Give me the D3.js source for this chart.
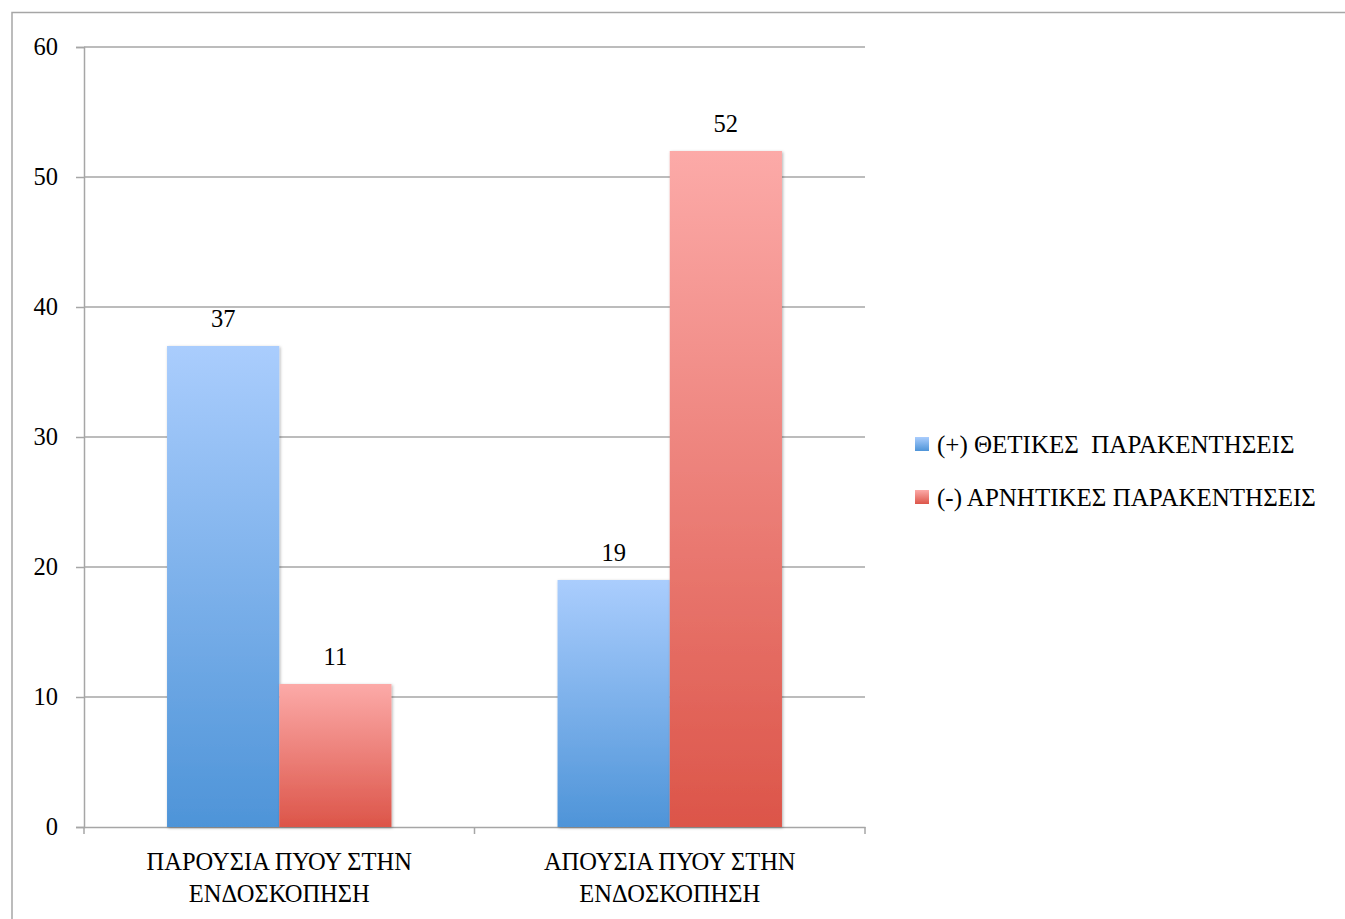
<!DOCTYPE html>
<html>
<head>
<meta charset="utf-8">
<script src="https://cdn.jsdelivr.net/npm/d3@7"></script>
<style>
  body { margin: 0; background: #fff; }
  svg { font-family: "Liberation Serif", serif; }
</style>
</head>
<body>
<script>
const width = 1345, height = 919;

const categories = [["ΠΑΡΟΥΣΙΑ ΠΥΟΥ ΣΤΗΝ", "ΕΝΔΟΣΚΟΠΗΣΗ"], ["ΑΠΟΥΣΙΑ ΠΥΟΥ ΣΤΗΝ", "ΕΝΔΟΣΚΟΠΗΣΗ"]];
const seriesNames = ["(+) ΘΕΤΙΚΕΣ  ΠΑΡΑΚΕΝΤΗΣΕΙΣ", "(-) ΑΡΝΗΤΙΚΕΣ ΠΑΡΑΚΕΝΤΗΣΕΙΣ"];
const positive = [37, 19];
const negative = [11, 52];
const yTicks = [0, 10, 20, 30, 40, 50, 60];

const margin = { left: 84, right: 480, top: 47, bottom: 92 };
const fontSize = 24.5;

const svg = d3.select("body").append("svg")
  .attr("width", width)
  .attr("height", height);

const defs = svg.append("defs");
const grads = [["gBlue", "#aacdfd", "#4e94d8"], ["gRed", "#fcaaa8", "#dc5549"]];
grads.forEach(function (g) {
  const lg = defs.append("linearGradient").attr("id", g[0])
    .attr("x1", 0).attr("y1", 0).attr("x2", 0).attr("y2", 1);
  lg.append("stop").attr("offset", "0%").attr("stop-color", g[1]);
  lg.append("stop").attr("offset", "100%").attr("stop-color", g[2]);
});
const shadow = defs.append("filter").attr("id", "shadow")
  .attr("x", "-10%").attr("y", "-10%").attr("width", "130%").attr("height", "130%");
shadow.append("feDropShadow").attr("dx", 1).attr("dy", 1).attr("stdDeviation", 1.5)
  .attr("flood-color", "#000").attr("flood-opacity", 0.3);

// outer frame
svg.append("rect")
  .attr("x", 12).attr("y", 12.5)
  .attr("width", width).attr("height", height)
  .attr("fill", "none").attr("stroke", "#a6a6a6").attr("stroke-width", 1.5);

const x0 = d3.scaleBand()
  .domain(d3.range(categories.length))
  .range([margin.left, width - margin.right])
  .paddingInner(0).paddingOuter(0);

const x1 = d3.scaleBand()
  .domain([0, 1])
  .range([0, x0.bandwidth()])
  .paddingOuter(0.74);

const y = d3.scaleLinear()
  .domain([0, 60])
  .range([height - margin.bottom, margin.top]);

// gridlines
svg.append("g").selectAll("line")
  .data(yTicks.slice(1))
  .enter().append("line")
  .attr("x1", margin.left).attr("x2", width - margin.right)
  .attr("y1", function (d) { return y(d); }).attr("y2", function (d) { return y(d); })
  .attr("stroke", "#a6a6a6").attr("stroke-width", 1.5);

// y axis
const yAxis = svg.append("g")
  .attr("transform", "translate(" + margin.left + ",0)")
  .call(d3.axisLeft(y).tickValues(yTicks).tickSize(8).tickPadding(18));
yAxis.select(".domain").attr("stroke", "#a6a6a6").attr("stroke-width", 1.5);
yAxis.selectAll(".tick line").attr("stroke", "#a6a6a6").attr("stroke-width", 1.5);
yAxis.selectAll("text").attr("font-size", fontSize).attr("fill", "#000")
  .attr("font-family", "Liberation Serif");

// x axis
const xAxis = svg.append("g")
  .attr("transform", "translate(0," + y(0) + ")")
  .call(d3.axisBottom(x0).tickSize(0).tickFormat(""));
xAxis.select(".domain").attr("stroke", "#a6a6a6").attr("stroke-width", 1.5);
svg.append("g").selectAll("line")
  .data([x0.range()[0], x0.range()[0] + x0.bandwidth(), x0.range()[1]])
  .enter().append("line")
  .attr("x1", function (d) { return d; }).attr("x2", function (d) { return d; })
  .attr("y1", y(0)).attr("y2", y(0) + 7)
  .attr("stroke", "#a6a6a6").attr("stroke-width", 1.5);

// category labels
categories.forEach(function (lines, i) {
  const t = svg.append("text")
    .attr("x", x0(i) + x0.bandwidth() / 2)
    .attr("y", y(0) + 43)
    .attr("text-anchor", "middle")
    .attr("font-size", fontSize);
  lines.forEach(function (l, j) {
    t.append("tspan").attr("x", x0(i) + x0.bandwidth() / 2).attr("dy", j === 0 ? 0 : 32).text(l);
  });
});

// bars
const series = [positive, negative];
const fills = ["url(#gBlue)", "url(#gRed)"];
series.forEach(function (vals, s) {
  const g = svg.append("g");
  g.selectAll("rect")
    .data(vals)
    .enter().append("rect")
    .attr("x", function (d, i) { return x0(i) + x1(s); })
    .attr("y", function (d) { return y(d); })
    .attr("width", x1.bandwidth())
    .attr("height", function (d) { return y(0) - y(d); })
    .attr("fill", fills[s])
    .attr("filter", "url(#shadow)");
  g.selectAll("text")
    .data(vals)
    .enter().append("text")
    .attr("x", function (d, i) { return x0(i) + x1(s) + x1.bandwidth() / 2; })
    .attr("y", function (d) { return y(d) - 19; })
    .attr("text-anchor", "middle")
    .attr("font-size", fontSize)
    .text(function (d) { return d; });
});

// legend
const legend = svg.append("g").attr("transform", "translate(915,437)");
seriesNames.forEach(function (name, i) {
  const row = legend.append("g").attr("transform", "translate(0," + i * 53 + ")");
  row.append("rect").attr("width", 14).attr("height", 14).attr("fill", fills[i]);
  row.append("text").attr("x", 22).attr("y", 16).attr("font-size", 25)
    .style("white-space", "pre").text(name);
});
</script>
</body>
</html>
